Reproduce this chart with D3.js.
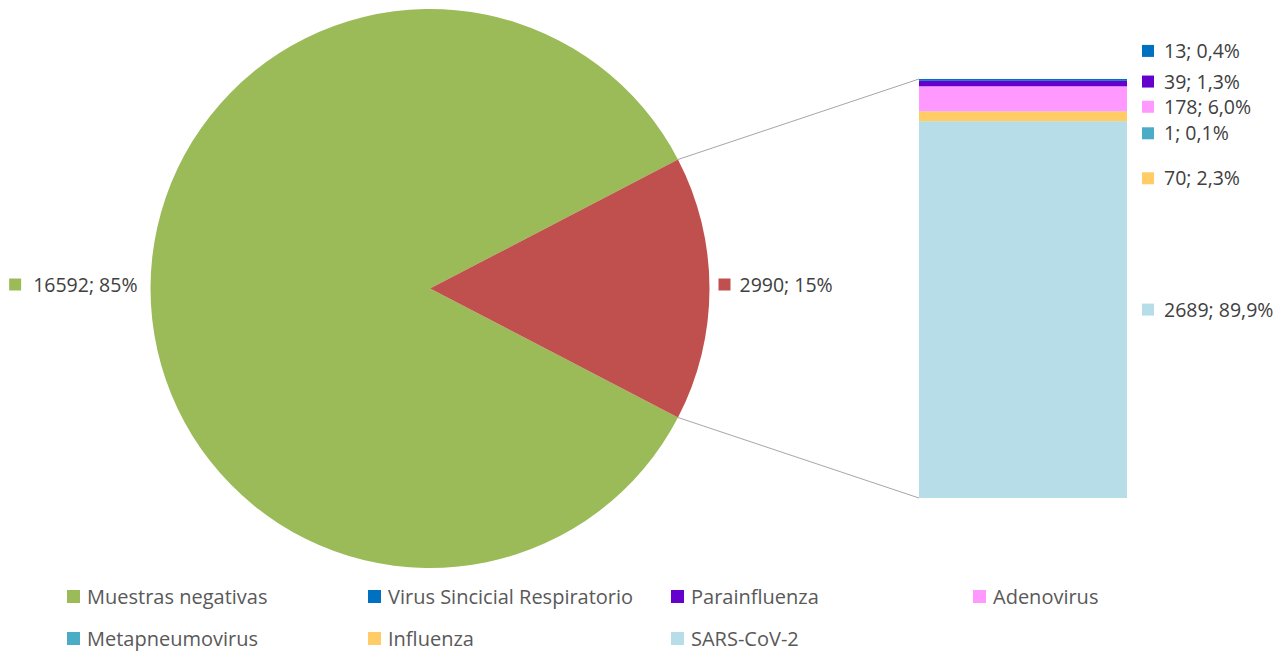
<!DOCTYPE html>
<html>
<head>
<meta charset="utf-8">
<script src="https://cdn.jsdelivr.net/npm/d3@7"></script>
<style>
  body { margin: 0; background: #fff; }
  svg { display: block; font-family: "Open Sans", sans-serif; }
</style>
</head>
<body>
<svg class="chart"></svg>
<script>
// ---------------- data ----------------
// main pie
const pieNames  = ['Muestras negativas', 'Positivas']
const pieValues = [16592, 2990]
const pieColors = ['#9BBB59', '#C0504D']

// stacked bar (split of the positive samples), bottom -> top
const subNames  = ['SARS-CoV-2', 'Influenza', 'Metapneumovirus', 'Adenovirus', 'Parainfluenza', 'Virus Sincicial Respiratorio']
const subValues = [2689, 70, 1, 178, 39, 13]
const subPct    = [89.9, 2.3, 0.1, 6.0, 1.3, 0.4]
const subColors = ['#B7DDE8', '#FFCC66', '#4BACC6', '#FF99FF', '#6600CC', '#0070C0']

// legend order as in the picture
const legendNames  = ['Muestras negativas', 'Virus Sincicial Respiratorio', 'Parainfluenza', 'Adenovirus',
                      'Metapneumovirus', 'Influenza', 'SARS-CoV-2']
const legendColors = ['#9BBB59', '#0070C0', '#6600CC', '#FF99FF', '#4BACC6', '#FFCC66', '#B7DDE8']

// ---------------- layout ----------------
const width = 1287
const height = 654
const cx = 430, cy = 288.5, r = 279.5
const bar = {x0: 919, x1: 1127, top: 79, bottom: 498}
// Excel moved the crowded bar labels apart; offsets from segment middle
const labelShift = [0, 62, 22, 8, -2, -29]

const svg = d3.select('svg.chart')
  .attr('width', width)
  .attr('height', height)
  .attr('viewBox', `0 0 ${width} ${height}`)

const fmtComma = d => d3.format('.1f')(d).replace('.', ',')

// ---------------- pie ----------------
const total = d3.sum(pieValues)
const frac = pieValues[1] / total
const start = Math.PI / 2 + Math.PI * frac

const pie = d3.pie().sort(null)
  .startAngle(start)
  .endAngle(start + 2 * Math.PI)
const arcs = pie(pieValues)
const arc = d3.arc().innerRadius(0).outerRadius(r)

const pieG = svg.append('g').attr('transform', `translate(${cx}, ${cy})`)
pieG.selectAll('path')
  .data(arcs)
  .enter()
  .append('path')
  .attr('d', arc)
  .attr('fill', (d, i) => pieColors[i])

// connector lines from red slice to bar
const y = d3.scaleLinear().domain([0, d3.sum(subValues)]).range([bar.bottom, bar.top])
const red = arcs[1]
const pt = a => [cx + r * Math.sin(a), cy - r * Math.cos(a)]
const pTop = pt(red.startAngle)
const pBot = pt(red.endAngle)
svg.append('line')
  .attr('x1', pTop[0]).attr('y1', pTop[1]).attr('x2', bar.x0).attr('y2', y(d3.sum(subValues)))
  .attr('stroke', '#A6A6A6').attr('stroke-width', 1)
svg.append('line')
  .attr('x1', pBot[0]).attr('y1', pBot[1]).attr('x2', bar.x0).attr('y2', y(0))
  .attr('stroke', '#A6A6A6').attr('stroke-width', 1)

// pie labels
arcs.forEach((d, i) => {
  const mid = (d.startAngle + d.endAngle) / 2
  const right = Math.sin(mid) > 0
  const pct = Math.round(d.value / total * 100)
  const g = svg.append('g')
  const ly = cy - 4
  const t = g.append('text')
    .attr('y', ly + 7)
    .attr('fill', '#404040')
    .attr('font-size', '19.5px')
    .text(`${d.value}; ${pct}%`)
  if (right) {
    const mx = cx + r + 9
    g.append('rect').attr('x', mx).attr('y', ly - 6).attr('width', 12).attr('height', 12).attr('fill', pieColors[i])
    t.attr('x', mx + 21)
  } else {
    const tw = t.node().getComputedTextLength()
    const endX = cx - r - 13
    t.attr('x', endX - tw)
    g.append('rect').attr('x', endX - tw - 24).attr('y', ly - 6).attr('width', 12).attr('height', 12).attr('fill', pieColors[i])
  }
})

// ---------------- stacked bar ----------------
let acc = 0
const segs = subValues.map((v, i) => {
  const s = {i: i, y0: acc, y1: acc + v}
  acc += v
  return s
})

svg.append('g')
  .selectAll('rect')
  .data(segs)
  .enter()
  .append('rect')
  .attr('x', bar.x0)
  .attr('width', bar.x1 - bar.x0)
  .attr('y', d => y(d.y1))
  .attr('height', d => y(d.y0) - y(d.y1))
  .attr('fill', d => subColors[d.i])

const subLab = svg.append('g')
  .selectAll('g')
  .data(segs)
  .enter()
  .append('g')
  .attr('transform', d => `translate(1142, ${(y(d.y0) + y(d.y1)) / 2 + labelShift[d.i]})`)
subLab.append('rect')
  .attr('x', 0).attr('y', -6).attr('width', 12).attr('height', 12)
  .attr('fill', d => subColors[d.i])
subLab.append('text')
  .attr('x', 22).attr('y', 7)
  .attr('fill', '#404040')
  .attr('font-size', '19.5px')
  .text(d => `${subValues[d.i]}; ${fmtComma(subPct[d.i])}%`)

// ---------------- legend ----------------
const legCols = [67, 368, 671, 973]
const legRows = [605, 647]
const leg = svg.append('g')
  .selectAll('g')
  .data(legendNames)
  .enter()
  .append('g')
  .attr('transform', (d, i) => `translate(${legCols[i % 4]}, ${legRows[Math.floor(i / 4)]})`)
leg.append('rect')
  .attr('x', 0).attr('y', -15).attr('width', 13).attr('height', 13)
  .attr('fill', (d, i) => legendColors[i])
leg.append('text')
  .attr('x', 20).attr('y', -1)
  .attr('fill', '#595959')
  .attr('font-size', '20px')
  .text(d => d)
</script>
</body>
</html>
